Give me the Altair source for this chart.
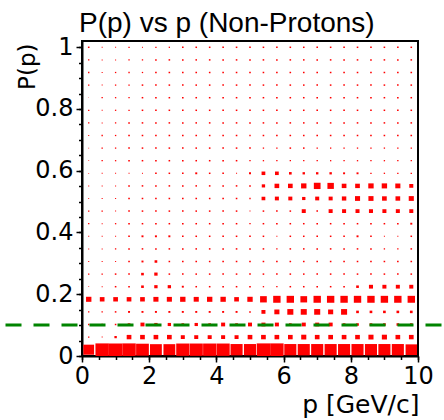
import altair as alt
import pandas as pd
import numpy as np

# ---- data: 2D histogram of P(p) vs p, 25 x 25 bins (counts) ----
p_bin_width = 0.4          # GeV/c, 25 bins from 0 to 10
P_bin_width = 0.0408       # 25 bins from 0 to 1.02
n_bins = 25

# rows: index 0 = lowest P bin, columns = p bins
row_00 = [640, 1000, 1000, 1000, 902, 774, 774, 960, 960, 960, 960, 810, 810, 1000, 1000, 810, 810, 810, 810, 810, 810, 810, 810, 810, 722]
row_01 = [10, 6, 32, 122, 122, 122, 122, 90, 90, 90, 90, 90, 122, 122, 122, 122, 144, 122, 122, 122, 122, 144, 144, 122, 122]
row_02 = [10, 14, 14, 40, 90, 62, 62, 40, 62, 40, 90, 40, 90, 90, 90, 40, 90, 90, 90, 40, 40, 40, 40, 40, 40]
row_03 = [10, 10, 14, 22, 22, 22, 22, 22, 22, 22, 22, 22, 14, 90, 144, 202, 202, 202, 144, 202, 40, 40, 40, 40, 40]
row_04 = [160, 122, 122, 122, 122, 144, 144, 160, 144, 160, 160, 122, 160, 250, 302, 302, 250, 302, 302, 302, 302, 302, 302, 302, 302]
row_05 = [4, 6, 14, 14, 40, 62, 62, 22, 14, 14, 14, 14, 14, 10, 10, 14, 14, 14, 14, 14, 40, 90, 90, 90, 90]
row_06 = [10, 10, 14, 14, 40, 62, 14, 14, 14, 14, 14, 14, 14, 14, 14, 14, 14, 14, 14, 14, 14, 14, 14, 14, 14]
row_07 = [6, 6, 6, 14, 22, 40, 14, 14, 14, 14, 14, 14, 14, 14, 14, 14, 14, 14, 14, 14, 14, 14, 14, 14, 14]
row_08 = [6, 6, 10, 14, 14, 14, 14, 14, 14, 14, 14, 14, 14, 14, 10, 14, 14, 14, 14, 14, 14, 14, 10, 10, 14]
row_09 = [6, 6, 6, 14, 22, 22, 22, 14, 14, 14, 14, 14, 14, 14, 6, 14, 14, 14, 14, 14, 22, 14, 6, 6, 14]
row_10 = [10, 6, 10, 14, 14, 14, 14, 14, 14, 14, 14, 14, 10, 14, 14, 14, 14, 14, 14, 14, 14, 14, 14, 14, 22]
row_11 = [10, 10, 6, 14, 14, 14, 14, 14, 14, 14, 14, 14, 6, 14, 14, 14, 90, 14, 90, 90, 90, 90, 90, 90, 90]
row_12 = [4, 6, 6, 14, 14, 14, 14, 14, 14, 14, 14, 14, 10, 78, 90, 90, 62, 90, 90, 109, 144, 144, 122, 122, 144]
row_13 = [6, 6, 6, 14, 14, 14, 14, 14, 14, 14, 14, 14, 14, 62, 122, 122, 160, 250, 230, 122, 122, 160, 160, 144, 90]
row_14 = [4, 6, 6, 6, 6, 14, 14, 14, 22, 14, 14, 6, 22, 78, 78, 40, 32, 32, 32, 22, 22, 10, 10, 10, 10]
row_15 = [4, 10, 10, 14, 14, 14, 14, 14, 14, 14, 14, 14, 10, 10, 10, 10, 10, 10, 10, 10, 10, 10, 10, 10, 10]
row_16 = [4, 10, 10, 14, 14, 14, 14, 14, 14, 14, 14, 14, 14, 10, 10, 14, 14, 10, 10, 10, 10, 10, 10, 10, 10]
row_17 = [6, 10, 10, 14, 14, 14, 14, 14, 14, 14, 14, 14, 10, 14, 14, 14, 14, 14, 14, 14, 14, 14, 14, 14, 14]
row_18 = [10, 6, 10, 14, 14, 14, 14, 14, 14, 14, 14, 14, 14, 14, 14, 14, 14, 14, 14, 14, 14, 14, 14, 14, 14]
row_19 = [10, 6, 10, 10, 14, 14, 14, 14, 14, 14, 14, 14, 14, 14, 14, 14, 14, 14, 14, 14, 14, 14, 14, 14, 14]
row_20 = [2, 10, 10, 10, 14, 14, 14, 14, 14, 14, 14, 14, 14, 14, 14, 14, 14, 14, 14, 14, 14, 14, 14, 14, 14]
row_21 = [10, 6, 10, 10, 14, 14, 14, 14, 14, 14, 14, 14, 14, 14, 14, 14, 14, 14, 14, 14, 14, 14, 14, 14, 14]
row_22 = [10, 6, 10, 10, 10, 14, 14, 14, 14, 14, 14, 14, 14, 14, 14, 14, 14, 14, 14, 14, 14, 14, 14, 14, 14]
row_23 = [10, 6, 6, 10, 10, 14, 14, 14, 14, 14, 14, 14, 14, 14, 14, 14, 14, 14, 14, 14, 14, 14, 14, 14, 14]
row_24 = [14, 6, 6, 10, 6, 10, 10, 14, 14, 14, 14, 14, 14, 14, 14, 14, 14, 14, 14, 14, 14, 14, 14, 14, 14]

rows = [row_00, row_01, row_02, row_03, row_04, row_05, row_06, row_07, row_08, row_09,
        row_10, row_11, row_12, row_13, row_14, row_15, row_16, row_17, row_18, row_19,
        row_20, row_21, row_22, row_23, row_24]

cut_value = 0.1   # green dashed cut line on P(p)

x_major = [0, 2, 4, 6, 8, 10]
x_minor = [0, 0.5, 1, 1.5, 2, 2.5, 3, 3.5, 4, 4.5, 5, 5.5, 6, 6.5, 7, 7.5, 8, 8.5, 9, 9.5, 10]
y_major = [0, 0.2, 0.4, 0.6, 0.8, 1.0]
y_minor = [0, 0.05, 0.1, 0.15, 0.2, 0.25, 0.3, 0.35, 0.4, 0.45, 0.5, 0.55, 0.6, 0.65,
           0.7, 0.75, 0.8, 0.85, 0.9, 0.95, 1.0]

# ---- build box table (ROOT "box" style: box area ~ content) ----
recs = []
cmax = max(max(r) for r in rows)
for j, r in enumerate(rows):
    for i, c in enumerate(r):
        if c <= 0:
            continue
        f = np.sqrt(c / cmax)
        pc = (i + 0.5) * p_bin_width
        Pc = (j + 0.5) * P_bin_width
        recs.append(dict(p=pc, P=Pc, count=c,
                         x0=pc - 0.5 * p_bin_width * f, x1=pc + 0.5 * p_bin_width * f,
                         y0=Pc - 0.5 * P_bin_width * f, y1=Pc + 0.5 * P_bin_width * f))
df = pd.DataFrame(recs)

FONT = "Liberation Sans"
LFONT = "DejaVu Sans"
xscale = alt.Scale(domain=[0, 10], nice=False, zero=False)
yscale = alt.Scale(domain=[0, 1.02], nice=False, zero=False)

x_axis_main = alt.Axis(values=x_major, orient="bottom", tickSize=6, tickWidth=1.5, tickColor="black",
                       domainColor="black", domainWidth=2, grid=False, labelFlush=False,
                       labelFont=LFONT, labelFontSize=24, labelColor="black", labelPadding=2,
                       labelExpr="format(datum.value, '~g')",
                       title="p [GeV/c]", titleFont=LFONT, titleFontSize=25, titleFontWeight="normal",
                       titleColor="black", titleX=337, titleY=56, titleAlign="right",
                       titleBaseline="alphabetic")
y_axis_main = alt.Axis(values=y_major, orient="left", tickSize=6, tickWidth=1.5, tickColor="black",
                       domainColor="black", domainWidth=2, grid=False, labelFlush=False,
                       labelFont=LFONT, labelFontSize=24, labelColor="black", labelPadding=3,
                       labelExpr="format(datum.value, '.2~f')",
                       title="P(p)", titleFont=LFONT, titleFontSize=23, titleFontWeight="normal",
                       titleColor="black", titleX=-48, titleY=2, titleAlign="right",
                       titleBaseline="alphabetic", titleAngle=270)
x_axis_minor = alt.Axis(values=x_minor, orient="bottom", tickSize=3.5, tickWidth=1.5, tickColor="black",
                        domain=False, labels=False, grid=False, title=None)
y_axis_minor = alt.Axis(values=y_minor, orient="left", tickSize=3.5, tickWidth=1.5, tickColor="black",
                        domain=False, labels=False, grid=False, title=None)

boxes = alt.Chart(df).mark_rect(color="#ff0000", strokeWidth=0).encode(
    x=alt.X("x0:Q", scale=xscale, axis=x_axis_main),
    x2="x1:Q",
    y=alt.Y("y0:Q", scale=yscale, axis=y_axis_main),
    y2="y1:Q",
)

minor = alt.Chart(df).mark_rect(opacity=0).encode(
    x=alt.X("x0:Q", scale=xscale, axis=x_axis_minor),
    x2="x1:Q",
    y=alt.Y("y0:Q", scale=yscale, axis=y_axis_minor),
    y2="y1:Q",
)

cut = alt.Chart(pd.DataFrame({"cut": [cut_value]})).mark_rule(
    color="#008400", strokeWidth=3, strokeDash=[16, 12]
).encode(
    y=alt.Y("cut:Q", scale=yscale, axis=None),
    x=alt.value(-76.5),
    x2=alt.value(362),
)

chart = alt.layer(boxes, minor, cut).resolve_axis(x="independent", y="independent").properties(
    width=336, height=315,
    title=alt.TitleParams("P(p) vs p (Non-Protons)", anchor="start", frame="group", font=FONT,
                          fontSize=28, fontWeight="normal", color="black", offset=6, dx=-3, dy=9),
    autosize=alt.AutoSizeParams(type="none"),
    padding={"left": 82, "top": 41, "right": 26, "bottom": 64},
    background="white",
).configure_view(stroke="black", strokeWidth=2)

chart.save("out.html", embed_options={"renderer": "svg", "actions": False})
